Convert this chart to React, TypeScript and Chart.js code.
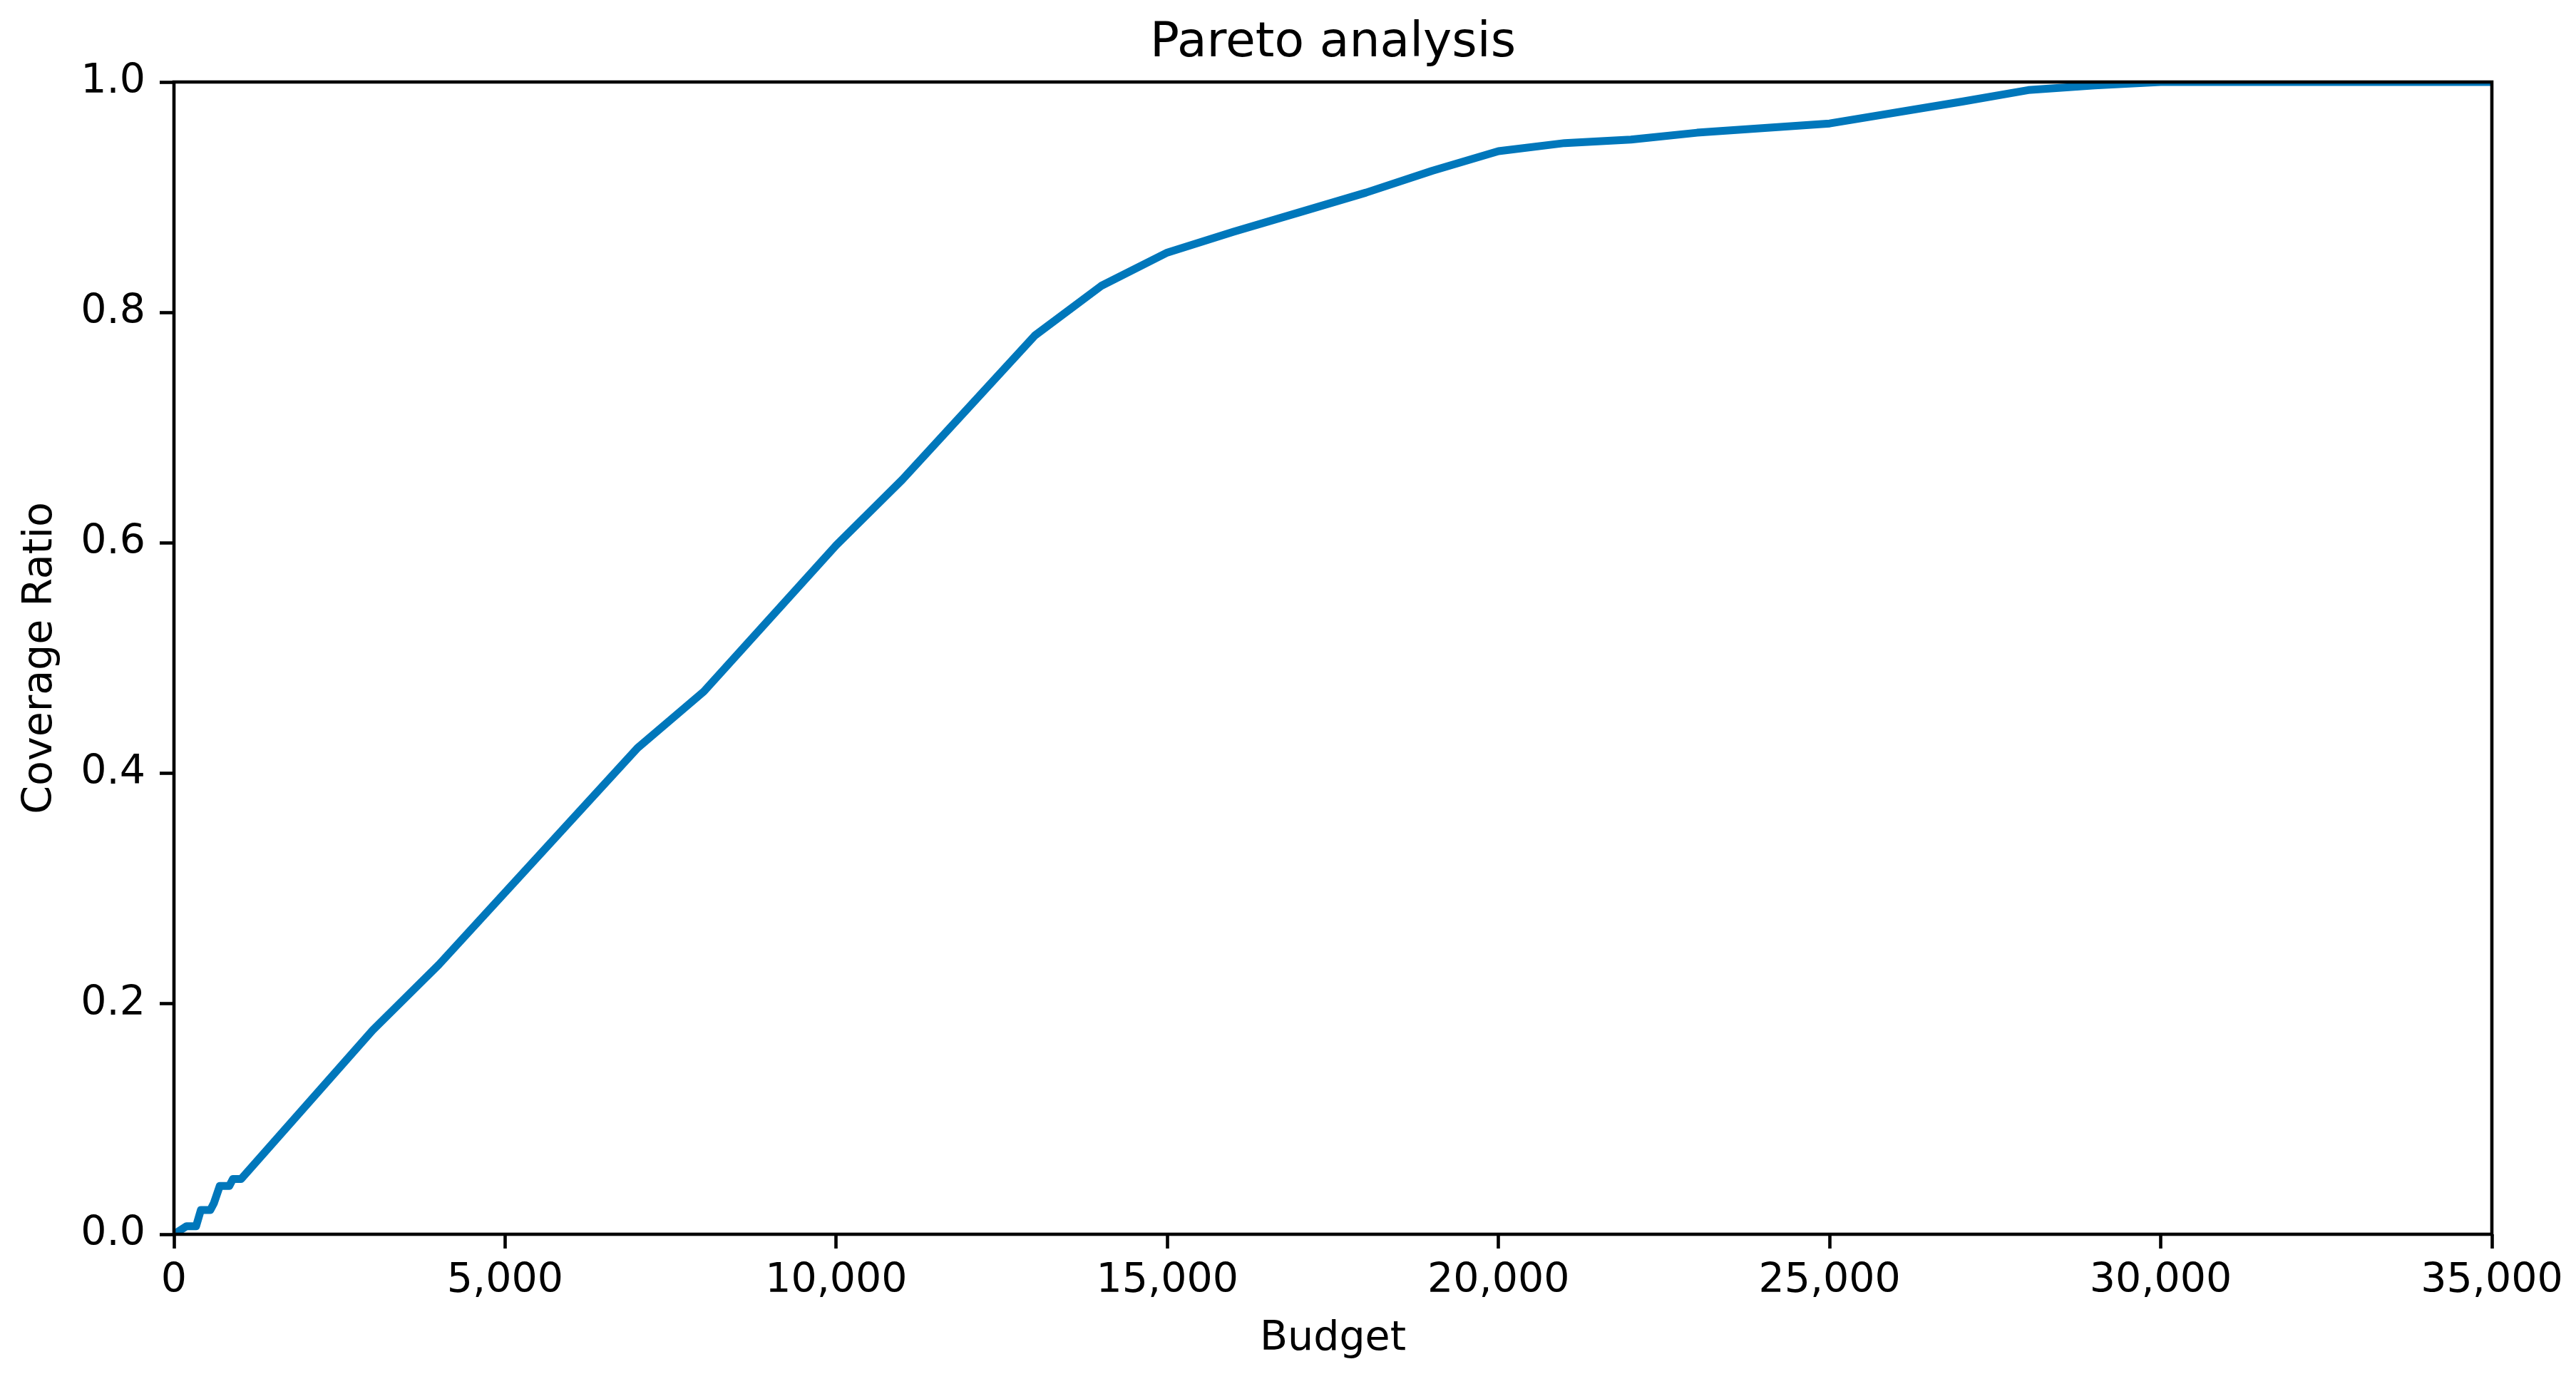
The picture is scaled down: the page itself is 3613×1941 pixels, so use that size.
import React, { useEffect, useRef } from "react";
import { Chart, registerables } from "chart.js";

Chart.register(...registerables);

const budget = [
  0, 190, 334, 406, 549, 603, 692, 836, 890, 1015, 3000, 4000, 7000, 8000, 10000, 11000,
  13000, 14000, 15000, 16000, 17000, 18000, 19000, 20000, 21000, 22000, 23000, 25000,
  27000, 28000, 29000, 30000, 35000,
];
const coverage = [
  0, 0.007, 0.007, 0.021, 0.021, 0.027, 0.042, 0.042, 0.048, 0.048, 0.177, 0.234, 0.422, 0.471,
  0.598, 0.655, 0.78, 0.823, 0.852, 0.87, 0.887, 0.904, 0.923, 0.94, 0.947, 0.95, 0.956, 0.964,
  0.983, 0.993, 0.997, 1.0, 1.0,
];
const xTicks = [0, 5000, 10000, 15000, 20000, 25000, 30000, 35000];
const yTicks = [0, 0.2, 0.4, 0.6, 0.8, 1.0];

const titleText = "Pareto analysis";
const xLabel = "Budget";
const yLabel = "Coverage Ratio";

const W = 3613;
const H = 1941;
const FONT = "'DejaVu Sans', sans-serif";

const framePlugin = {
  id: "frame",
  afterDatasetsDraw(chart: any) {
    const { ctx, chartArea } = chart;
    const { left, top, right, bottom } = chartArea;
    ctx.save();
    ctx.strokeStyle = "#000";
    ctx.lineWidth = 4.6;
    ctx.lineJoin = "miter";
    ctx.strokeRect(left, top, right - left, bottom - top);
    ctx.restore();
  },
};

export default function App() {
  const ref = useRef<HTMLCanvasElement | null>(null);

  useEffect(() => {
    if (!ref.current) return;
    const points = budget.map((b, i) => ({ x: b, y: coverage[i] }));
    const chart = new Chart(ref.current, {
      type: "line",
      data: {
        datasets: [
          {
            data: points,
            borderColor: "#0077BB",
            backgroundColor: "#0077BB",
            borderWidth: 11,
            pointRadius: 0,
            tension: 0,
            borderJoinStyle: "round",
            borderCapStyle: "butt",
            clip: 0,
            fill: false,
            xAxisID: "x",
            yAxisID: "y",
          } as any,
        ],
      },
      options: {
        responsive: false,
        animation: false,
        devicePixelRatio: 1,
        layout: { padding: { left: 0, right: 118, top: 0, bottom: 0 } },
        plugins: {
          legend: { display: false },
          tooltip: { enabled: false },
          title: { display: false },
        },
        scales: {
          x: {
            type: "linear",
            position: "bottom",
            min: 0,
            max: 35000,
            afterBuildTicks: (scale: any) => {
              scale.ticks = xTicks.map((v) => ({ value: v }));
            },
            afterFit: (scale: any) => {
              scale.height = H - 1731;
            },
            ticks: {
              color: "#000",
              font: { family: FONT, size: 57, lineHeight: 1.2 },
              padding: 12,
              maxRotation: 0,
              autoSkip: false,
              callback: (v: any) => Number(v).toLocaleString("en-US"),
            },
            grid: {
              display: true,
              drawOnChartArea: false,
              drawTicks: true,
              tickLength: 20,
              tickWidth: 4.6,
              tickColor: "#000",
            },
            border: { display: false },
            title: {
              display: true,
              text: xLabel,
              color: "#000",
              font: { family: FONT, size: 57, lineHeight: 1.2 },
              padding: { top: 0, bottom: 29 },
            },
          },
          xTop: {
            type: "linear",
            position: "top",
            min: 0,
            max: 35000,
            afterFit: (scale: any) => {
              scale.height = 115;
            },
            ticks: { display: false },
            grid: { display: false, drawTicks: false },
            border: { display: false },
            title: {
              display: true,
              text: titleText,
              color: "#000",
              font: { family: FONT, size: 68, weight: "normal", lineHeight: 1.2 },
              padding: { top: 21, bottom: 0 },
            },
          },
          y: {
            type: "linear",
            min: 0,
            max: 1,
            afterBuildTicks: (scale: any) => {
              scale.ticks = yTicks.map((v) => ({ value: v }));
            },
            afterFit: (scale: any) => {
              scale.width = 244;
            },
            ticks: {
              color: "#000",
              font: { family: FONT, size: 57, lineHeight: 1.2 },
              padding: 20,
              autoSkip: false,
              callback: (v: any) => Number(v).toFixed(1),
            },
            grid: {
              display: true,
              drawOnChartArea: false,
              drawTicks: true,
              tickLength: 20,
              tickWidth: 4.6,
              tickColor: "#000",
            },
            border: { display: false },
            title: {
              display: true,
              text: yLabel,
              color: "#000",
              font: { family: FONT, size: 57, lineHeight: 1.2 },
              padding: { top: 23, bottom: 0 },
            },
          },
        },
      },
      plugins: [framePlugin],
    });
    return () => chart.destroy();
  }, []);

  return (
    <div style={{ position: "absolute", left: 0, top: 0, width: W, height: H, background: "#fff" }}>
      <canvas ref={ref} width={W} height={H} style={{ display: "block", width: W, height: H }} />
    </div>
  );
}
